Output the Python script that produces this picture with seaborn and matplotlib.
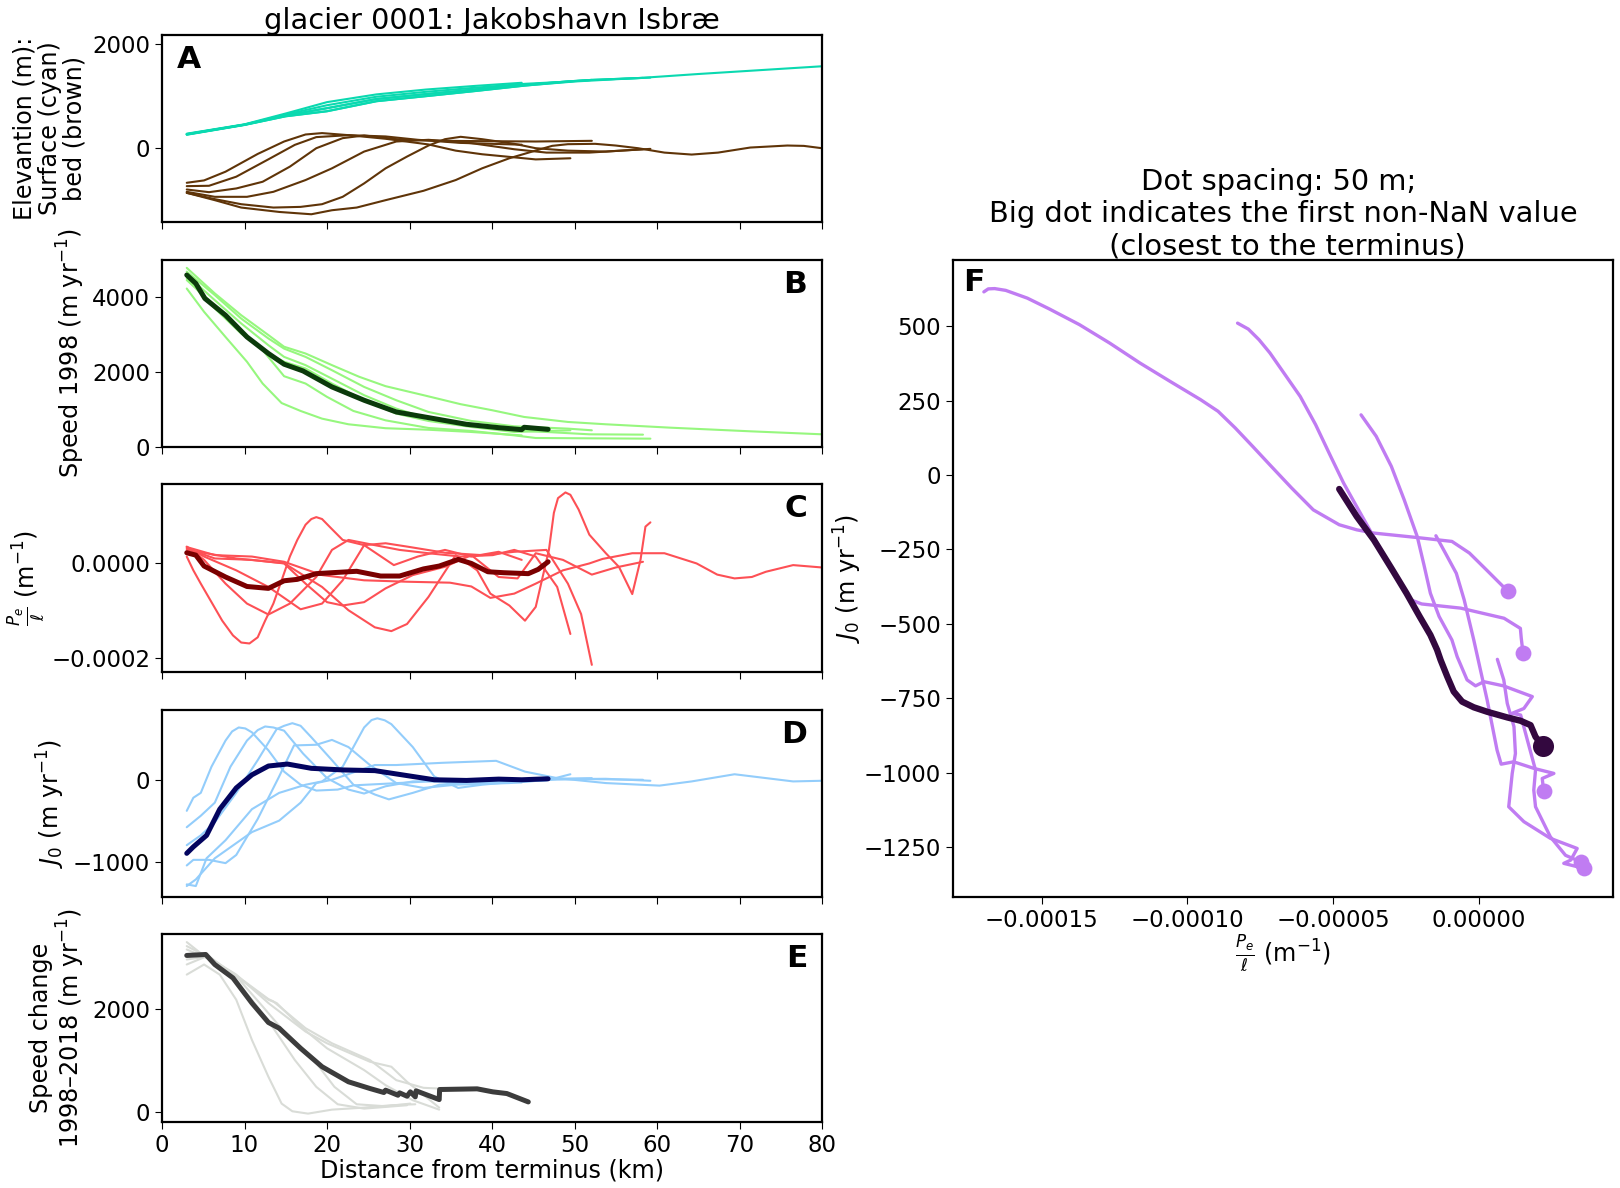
import numpy as np
import matplotlib
matplotlib.use("Agg")
import matplotlib.pyplot as plt
import seaborn as sns

# Values (km along flowline, one sub-list per flowline)
surface_x = [
    [3, 10, 15, 20, 26, 32, 38, 43.6],
    [3, 10, 15, 20, 26, 32, 38, 44, 49.5],
    [3, 10, 15, 20, 26, 32, 38, 44, 49.5, 52.1],
    [3, 10, 15, 20, 26, 32, 38, 44, 49.5, 52, 58.3],
    [3, 10, 15, 20, 26, 32, 38, 44, 49.5, 52, 59.2],
    [3, 10, 15, 20, 26, 32, 38, 44, 50, 58.3, 65, 72, 80],
]
surface_y = [
    [268, 450, 660, 880, 1030, 1124, 1195, 1255],
    [262, 445, 640, 820, 985, 1080, 1160, 1235, 1280],
    [258, 445, 620, 760, 940, 1035, 1125, 1215, 1285, 1310],
    [252, 440, 605, 702, 897, 995, 1095, 1200, 1280, 1310, 1350],
    [255, 442, 622, 765, 942, 1038, 1128, 1217, 1285, 1310, 1355],
    [248, 437, 607, 705, 899, 997, 1097, 1202, 1280, 1352, 1425, 1495, 1575],
]
bed_x = [
    [3, 5.1, 7.7, 11.6, 14.8, 17.4, 19.4, 22.6, 27.1, 32.3, 35.6, 38.8, 45.3, 49.5],
    [3, 5.7, 9, 12.9, 16.1, 18.7, 22.6, 27.1, 31, 36.2, 43.6],
    [3, 5.7, 9, 12.2, 15.5, 18.7, 21.9, 24.5, 29.1, 34.3, 38.8, 45.3, 52.1],
    [3, 6.4, 10.3, 13.5, 17.4, 20.6, 24.5, 28.4, 32.3, 37.5, 42.7, 46.6, 51.8, 58.3],
    [3, 6.4, 9.6, 13.5, 16.8, 19.4, 21.9, 24.5, 27.1, 29.7, 32.3, 34.3, 36.2, 38.8, 42.7, 45.3, 49.2, 53.8, 59.2],
    [3, 6.4, 9.6, 14.2, 18.1, 20.6, 23.6, 27.1, 31.7, 35.6, 38.8, 42.1, 45.3, 47.3, 49.2, 52.5, 55, 57.7, 60.9, 64.2, 67.4, 71.3, 75.8, 77.8, 80],
]
bed_y = [
    [-683, -637, -468, -124, 117, 253, 280, 240, 170, 60, -60, -130, -230, -208],
    [-748, -741, -565, -228, 52, 202, 240, 215, 150, 90, 55],
    [-813, -865, -793, -663, -370, -13, 182, 234, 150, 130, 124, 117, 130],
    [-858, -955, -955, -858, -630, -403, -78, 117, 150, 85, -33, -98, -98, -33],
    [-878, -1000, -1098, -1163, -1150, -1098, -955, -695, -403, -175, 39, 162, 208, 162, 72, -13, -60, -78, -26],
    [-878, -1020, -1163, -1248, -1293, -1215, -1163, -1020, -838, -630, -403, -208, -58, 33, 65, 72, 39, -13, -98, -136, -98, 0, 39, 32, -13],
]

speed_x = [
    [3, 5.1, 7.7, 10.3, 12.2, 14.5, 16.8, 19.4, 22.6, 27.1, 32.3, 37.5, 43.6],
    [3, 5.7, 9, 12.2, 14.8, 17.4, 20, 23.2, 27.1, 32.3, 37.5, 42.7, 45.3, 51.8, 59.2],
    [3, 6.4, 9.6, 12.9, 14.8, 17.4, 20.6, 23.9, 27.1, 31.7, 36.2, 40, 43.9, 49.2, 53.8, 61.6, 71.3, 80],
    [3, 6.4, 9.6, 12.9, 14.8, 17.4, 20.6, 24.5, 28.4, 32.3, 37.5, 42.7, 49.2, 52.1],
    [3, 6.4, 9.6, 12.9, 14.8, 17.4, 20.6, 24.5, 28.4, 32.3, 37.5, 42.7, 46.6, 51.8, 58.3],
    [3, 6.4, 9.6, 12.9, 14.8, 17.4, 20.6, 24.5, 28.4, 32.3, 37.5, 42.7, 49.5],
]
speed_y = [
    [4220, 3600, 2930, 2270, 1690, 1170, 960, 755, 605, 500, 460, 400, 310],
    [4445, 3910, 3200, 2580, 1885, 1690, 1335, 960, 710, 507, 427, 310, 240, 231, 222],
    [4770, 4090, 3510, 2980, 2670, 2490, 2180, 1870, 1620, 1380, 1140, 980, 800, 667, 605, 515, 418, 338],
    [4670, 4045, 3420, 2890, 2620, 2400, 2045, 1600, 1245, 933, 693, 551, 489, 445],
    [4580, 3910, 3290, 2710, 2400, 2180, 1820, 1380, 1022, 755, 551, 445, 400, 338, 329],
    [4490, 3690, 3020, 2490, 2270, 2090, 1690, 1245, 889, 693, 533, 400, 445],
]
speed_mean_x = [3, 4.1, 5.2, 7.7, 10.3, 12.9, 14.8, 17.1, 20.6, 24.5, 28.4, 32.3, 36.9, 40.8, 43.6, 43.9, 46.8]
speed_mean_y = [4580, 4355, 3955, 3510, 2930, 2490, 2205, 2025, 1600, 1245, 933, 782, 605, 515, 462, 525, 470]

# driving-stress gradient term, in units of 1e-5 per metre
grad_x = [
    [3, 3.8, 4.7, 6, 7.3, 8.6, 9.6, 10.6, 11.6, 12.5, 13.5, 14.5, 15.5, 16.4, 17.4, 18.1, 18.7, 19.4, 20.3, 21.9, 24.5, 28.1, 31, 34.3, 37.5, 40.8, 43.6],
    [3, 5.1, 7.7, 10.3, 12.9, 15.5, 18.7, 20.6, 22.6, 25.8, 28.8, 32.3, 36.2, 40.1, 42.7, 45.3, 47.9, 49.5],
    [3, 5.1, 9, 12.9, 16.8, 19.4, 21.9, 24.5, 27.1, 29.7, 34.3, 38.8, 42.7, 46.6, 49.2, 50.8, 52.1],
    [3, 9, 14.8, 19.4, 22.6, 25.8, 27.8, 29.7, 32.3, 35.6, 38.2, 39.8, 42.1, 44, 45.3, 46.9, 47.5, 48, 48.9, 49.5, 50.5, 51.8, 53.8, 55.4, 57, 58, 58.6, 59.2],
    [3, 6.4, 10.9, 14.8, 19.4, 24.5, 29.7, 34.9, 37.5, 39.8, 42.7, 45.3, 48.6, 51.8, 53.4, 57, 60.9, 64.8, 67.3, 69.4, 71.5, 73.2, 76.5, 80],
    [3, 6.4, 10.9, 14.8, 17.4, 20, 21.9, 24.5, 27.1, 30.4, 34.3, 37.5, 40.8, 43.1, 45.3, 48.6, 52.1, 55, 58.3],
]
grad_y = [
    [1.4, -1.5, -4.3, -8.2, -12.1, -15.2, -16.7, -16.9, -15.6, -12.1, -8.5, -3.6, 1.4, 4.9, 8.1, 9.3, 9.7, 9.3, 7.7, 4.9, 3.8, -0.4, 1.4, 2.8, 1.4, 2.4, 0.7],
    [3.5, 0.7, -4.3, -8.5, -10.8, -8.5, -2.9, 2.8, 4.9, 3.8, 2.8, 2.1, 1.4, 1.7, 2.8, 1.4, -5.0, -14.9],
    [3.4, 1.4, -1.5, -5.0, -9.7, -8.5, -3.6, 3.8, 4.2, 3.5, 2.2, 1.7, 2.4, 2.8, -4.3, -10.7, -21.4],
    [2.8, 1.0, 0.0, -5.0, -9.9, -13.5, -14.3, -12.8, -7.1, 1.7, -1.5, -6.4, -8.9, -12.1, -9.2, 2.8, 10.6, 13.7, 14.9, 14.4, 11.3, 6.0, 2.1, -0.8, -6.5, 0.7, 7.7, 8.6],
    [3.4, 1.7, 1.4, 0.3, -2.5, -3.6, -3.9, -4.1, -4.9, -7.3, -6.4, -4.3, -1.5, -0.05, 0.9, 2.1, 2.1, -0.05, -2.4, -3.2, -2.9, -1.8, -0.4, -0.9],
    [3.1, 1.0, 0.7, -0.05, -4.3, -8.2, -8.9, -8.2, -5.3, -2.5, -0.75, 1.7, -2.9, -3.2, 2.1, 0.7, -2.4, -0.9, 0.3],
]
grad_mean_x = [3, 4.1, 5.1, 7.7, 10.3, 12.9, 14.8, 16.4, 18.7, 20.6, 23.6, 26.5, 28.8, 31.7, 33.6, 35.9, 37.5, 39.5, 41.4, 44.4, 45.6, 46.8]
grad_mean_y = [2.2, 1.7, -0.6, -2.9, -4.9, -5.3, -3.7, -3.4, -2.2, -2.0, -1.7, -2.7, -2.7, -1.2, -0.6, 0.8, -0.05, -1.8, -2.0, -2.2, -1.3, 0.3]

flux_x = [
    [3, 3.8, 4.7, 6, 7.7, 8.5, 9.3, 10.1, 10.9, 12.9, 14.8, 16.8, 18.7, 21.3, 23.2, 27.1, 32.3, 37.5, 43.6],
    [3, 4.7, 6.4, 8.3, 10.3, 11.6, 12.5, 13.5, 14.8, 17.1, 20, 22.6, 24.5, 27.1, 30.4, 35.6, 42.1, 46.6, 49.5],
    [3, 4.7, 6.4, 9, 11.6, 13.9, 14.8, 15.8, 16.8, 18.1, 20.6, 23.2, 25.8, 27.5, 30.4, 33.6, 38.8, 45.3, 52.1],
    [3, 3.8, 5.7, 7.7, 9, 11.6, 14.2, 16, 18.7, 20.6, 22.6, 25.2, 28.4, 31.7, 35.6, 42.1, 47.9, 53.8, 59.2],
    [3, 4.1, 5.4, 7.7, 10.9, 14.2, 17.4, 19.4, 21.9, 23.2, 24.5, 25.4, 26.1, 27, 27.8, 29.1, 30.4, 33, 35.9, 38.8, 45.3, 51.8, 58.3],
    [3, 4.1, 6.4, 10.9, 14.2, 16.8, 18.7, 20.6, 25.8, 28.4, 34, 40.5, 44, 47.9, 53.8, 60.3, 64.2, 69.4, 76.5, 80],
]
flux_y = [
    [-377, -218, -159, 159, 476, 587, 635, 623, 576, 357, 99, -60, -131, -119, -68, -48, -20, -32, -32],
    [-576, -437, -278, 159, 476, 603, 647, 635, 596, 318, 20, -119, -167, -79, -20, -12, -28, -8, 67],
    [-794, -675, -516, -159, 238, 615, 655, 687, 655, 516, 238, -60, -179, -238, -159, -60, -20, 8, 20],
    [-1040, -972, -972, -1012, -913, -476, 40, 417, 425, 484, 397, 179, -40, -99, -60, -40, 8, 12, -12],
    [-1270, -1290, -953, -734, -357, -159, -60, -20, 159, 397, 635, 725, 746, 722, 675, 536, 397, 40, -99, -60, 0, 8, 0],
    [-1290, -1210, -953, -635, -496, -278, -40, 0, 179, 179, 206, 230, 99, 20, -40, -71, -20, 67, -20, -12],
]
flux_mean_x = [3, 3.8, 5.4, 7, 9, 10.9, 12.9, 15.2, 18.1, 22, 25.8, 29.1, 33, 36.9, 40.8, 43.6, 46.8]
flux_mean_y = [-893, -814, -675, -357, -99, 60, 167, 191, 139, 119, 111, 60, 0, -8, 8, 0, 12]

change_x = [
    [3, 5.1, 7, 9, 10.9, 12.9, 14.5, 15.8, 17.7, 20.6, 24.5, 27.8, 30.7],
    [3, 5.4, 8.3, 10.9, 13.5, 16.1, 18.7, 21.3, 24.5, 29.7],
    [3, 5.7, 9, 12.2, 14.8, 18.1, 20.9, 23.6, 27.1, 30.1],
    [3, 5.4, 9, 12.9, 13.9, 16.8, 20, 24.5, 27.1, 30.4, 33.6],
    [3, 5.4, 8.6, 12.9, 13.5, 17.4, 20.6, 25.2, 28.4, 31.7, 33.6],
    [3, 5.4, 9, 12.9, 17.4, 20, 25.2, 27.8, 29.7, 33.6],
]
change_y = [
    [2682, 2880, 2682, 2190, 1403, 682, 157, 7, -39, 39, 79, 125, 144],
    [2880, 3040, 2682, 2190, 1633, 1010, 485, 144, 59, 125],
    [2978, 3040, 2650, 2059, 1567, 1076, 485, 144, 105, 157],
    [3174, 3010, 2650, 2190, 2125, 1666, 1240, 813, 518, 223, 39],
    [3318, 3010, 2715, 2203, 2158, 1633, 1338, 1010, 616, 466, 452],
    [3240, 3040, 2682, 2125, 1567, 1338, 977, 879, 584, 79],
]
change_mean_x = [3, 5.3, 6.4, 8.6, 10.9, 12.9, 14.2, 16.8, 19.4, 22.6, 25.2, 26.9, 27.1, 28.6, 28.8, 29.7, 30.1, 30.7, 30.8, 33.6, 33.65, 38.2, 40.1, 41.8, 44.4]
change_mean_y = [3057, 3076, 2880, 2617, 2125, 1745, 1633, 1240, 879, 584, 453, 374, 420, 321, 367, 302, 387, 289, 407, 236, 433, 446, 387, 354, 190]

# panel F: gradient term (1e-5 per metre) against flux term
phase_x = [
    [-16.99, -16.84, -16.62, -16.24, -15.5, -14.75, -13.71, -12.67, -11.63, -10.59, -9.55, -8.95, -8.36, -7.76, -7.17, -6.42, -5.68, -4.79, -4.19, -3.6, -2.11, -0.92, -0.32, 0.27, 0.72, 0.99],
    [-8.28, -7.91, -7.54, -7.17, -6.65, -6.13, -5.6, -5.08, -4.64, -4.19, -3.52, -2.85, -2.33, -1.96, -0.62, 0.87, 1.43, 1.46, 1.52],
    [-4.04, -3.52, -3.0, -2.56, -2.11, -1.88, -1.66, -1.36, -0.92, -0.74, -0.4, -0.11, 0.18, 0.85, 1.84, 1.55, 1.15, 1.44, 1.67, 1.95, 1.89, 1.95, 2.46, 2.98, 3.5],
    [-1.47, -1.14, -0.77, -0.5, -0.17, 0.06, 0.29, 0.63, 0.77, 1.2, 1.89, 2.58, 2.18, 2.23],
    [0.64, 0.86, 0.98, 1.21, 1.26, 1.15, 1.03, 1.55, 2.46, 3.38, 3.16, 2.92, 3.62],
]
phase_y = [
    [615, 625, 626, 620, 594, 558, 505, 443, 376, 314, 253, 214, 158, 96, 34, -44, -117, -167, -184, -195, -210, -223, -262, -319, -363, -389],
    [510, 490, 454, 410, 337, 264, 169, 62, -27, -106, -223, -341, -419, -433, -447, -481, -515, -548, -597],
    [202, 130, 29, -83, -207, -302, -397, -475, -554, -610, -688, -708, -694, -708, -744, -784, -800, -806, -890, -991, -1058, -1114, -1215, -1277, -1299],
    [-204, -263, -330, -419, -554, -655, -756, -924, -971, -963, -985, -1002, -1019, -1061],
    [-619, -688, -767, -845, -935, -1002, -1114, -1164, -1220, -1254, -1293, -1304, -1321],
]
phase_mean_x = [-4.79, -4.19, -3.6, -3.0, -2.48, -2.03, -1.66, -1.43, -1.31, -1.08, -0.86, -0.57, -0.17, 0.29, 0.98, 1.43, 1.78, 1.95, 2.2]
phase_mean_y = [-47, -139, -218, -313, -397, -475, -537, -587, -621, -677, -727, -761, -780, -795, -814, -825, -840, -879, -910]

x_ticks = list(range(0, 90, 10))
panel_letters = ["A", "B", "C", "D", "E", "F"]

sns.set_style("ticks")
plt.rcParams["font.family"] = ["DejaVu Sans"]
plt.rcParams["mathtext.default"] = "it"
plt.rcParams["text.color"] = "black"
plt.rcParams["axes.labelcolor"] = "black"

W, H = 1620, 1188
fig = plt.figure(figsize=(W / 100, H / 100), dpi=100)


def axes_px(x0, y0, x1, y1):
    return fig.add_axes([x0 / W, 1 - y1 / H, (x1 - x0) / W, (y1 - y0) / H])


rows = [(35, 222), (260, 447), (484.5, 671.5), (710, 897), (934, 1122)]
axs = [axes_px(162, r[0], 822, r[1]) for r in rows]
ax_f = axes_px(953, 260, 1613, 897)

TICK = 16.5
LABEL = 17.2
TITLE = 20.8

for ax in axs + [ax_f]:
    for sp in ax.spines.values():
        sp.set_linewidth(1.6)
        sp.set_color("black")
    ax.tick_params(labelsize=TICK, length=5, width=0.8, color="black", labelcolor="black")


def draw(ax, xs, ys, color, scale=1.0, mean=None, mean_color=None):
    for x, y in zip(xs, ys):
        sns.lineplot(x=x, y=np.array(y) * scale, ax=ax, color=color, lw=1.5,
                     sort=False, estimator=None, errorbar=None)
    if mean is not None:
        sns.lineplot(x=mean[0], y=np.array(mean[1]) * scale, ax=ax, color=mean_color, lw=3.6,
                     sort=False, estimator=None, errorbar=None)


draw(axs[0], surface_x, surface_y, "#0ad9b0")
draw(axs[0], bed_x, bed_y, "#5f3408")
draw(axs[1], speed_x, speed_y, "#96f77e", mean=(speed_mean_x, speed_mean_y), mean_color="#0b3a0b")
draw(axs[2], grad_x, grad_y, "#fd5055", scale=1e-5, mean=(grad_mean_x, grad_mean_y), mean_color="#7a0000")
draw(axs[3], flux_x, flux_y, "#93cdfb", mean=(flux_mean_x, flux_mean_y), mean_color="#03045f")
draw(axs[4], change_x, change_y, "#d9dcd7", mean=(change_mean_x, change_mean_y), mean_color="#3c3c3c")

axs[0].set_ylim(-1443, 2181)
axs[1].set_ylim(0, 4980)
axs[2].set_ylim(-0.000228, 0.0001657)
axs[3].set_ylim(-1423, 847)
axs[4].set_ylim(-203, 3477)

axs[0].set_yticks([0, 2000])
axs[1].set_yticks([0, 2000, 4000])
axs[2].set_yticks([-0.0002, 0])
axs[2].set_yticklabels(["\u22120.0002", "0.0000"])
axs[3].set_yticks([-1000, 0])
axs[4].set_yticks([0, 2000])

y_labels = [
    "Elevantion (m):\nSurface (cyan)\nbed (brown)",
    r"Speed 1998 (m yr$^{-1}$)",
    r"$\frac{P_e}{\ell}$ (m$^{-1}$)",
    r"$J_0$ (m yr$^{-1}$)",
    "Speed change\n1998\u20132018 (m yr$^{-1}$)",
]
for i, ax in enumerate(axs):
    ax.set_xlim(0, 80)
    ax.set_xticks(x_ticks)
    if i < 4:
        ax.set_xticklabels([])
    ax.set_xlabel("")
    ax.set_ylabel(y_labels[i], fontsize=LABEL, labelpad=4, linespacing=1.05)

axs[4].set_xlabel("Distance from terminus (km)", fontsize=LABEL, labelpad=1)
axs[0].set_title("glacier 0001: Jakobshavn Isbr\u00e6", fontsize=TITLE, pad=2)

for i, ax in enumerate(axs):
    if i == 0:
        ax.text(0.022, 0.87, panel_letters[i], transform=ax.transAxes, fontsize=22.5,
                fontweight="bold", va="center", ha="left", color="black")
    else:
        ax.text(0.978, 0.87, panel_letters[i], transform=ax.transAxes, fontsize=22.5,
                fontweight="bold", va="center", ha="right", color="black")

thin_dot = "#c07cf2"
for x, y in zip(phase_x, phase_y):
    px = np.array(x) * 1e-5
    sns.lineplot(x=px, y=y, ax=ax_f, color=thin_dot, lw=2.4, sort=False, estimator=None, errorbar=None)
    sns.scatterplot(x=px[-1:], y=y[-1:], ax=ax_f, color=thin_dot, s=130, linewidth=0, zorder=3)

thick_dot = "#33083f"
mx = np.array(phase_mean_x) * 1e-5
sns.lineplot(x=mx, y=phase_mean_y, ax=ax_f, color=thick_dot, lw=4.6, sort=False, estimator=None, errorbar=None, zorder=4)
sns.scatterplot(x=mx[-1:], y=phase_mean_y[-1:], ax=ax_f, color=thick_dot, s=230, linewidth=0, zorder=5)

ax_f.set_xlim(-0.0001805, 0.0000461)
ax_f.set_ylim(-1417, 722)
ax_f.set_xticks([-0.00015, -0.0001, -0.00005, 0])
ax_f.set_xticklabels(["\u22120.00015", "\u22120.00010", "\u22120.00005", "0.00000"])
ax_f.set_yticks([-1250, -1000, -750, -500, -250, 0, 250, 500])
ax_f.set_xlabel(r"$\frac{P_e}{\ell}$ (m$^{-1}$)", fontsize=LABEL, labelpad=1)
ax_f.set_ylabel(r"$J_0$ (m yr$^{-1}$)", fontsize=LABEL, labelpad=0)
ax_f.set_title("Dot spacing: 50 m; \nBig dot indicates the first non-NaN value\n (closest to the terminus)",
               fontsize=TITLE, pad=1, linespacing=1.18)
ax_f.text(0.016, 0.965, "F", transform=ax_f.transAxes, fontsize=22.5, fontweight="bold",
          va="center", ha="left", color="black")

fig.savefig("out.png", dpi=100)
